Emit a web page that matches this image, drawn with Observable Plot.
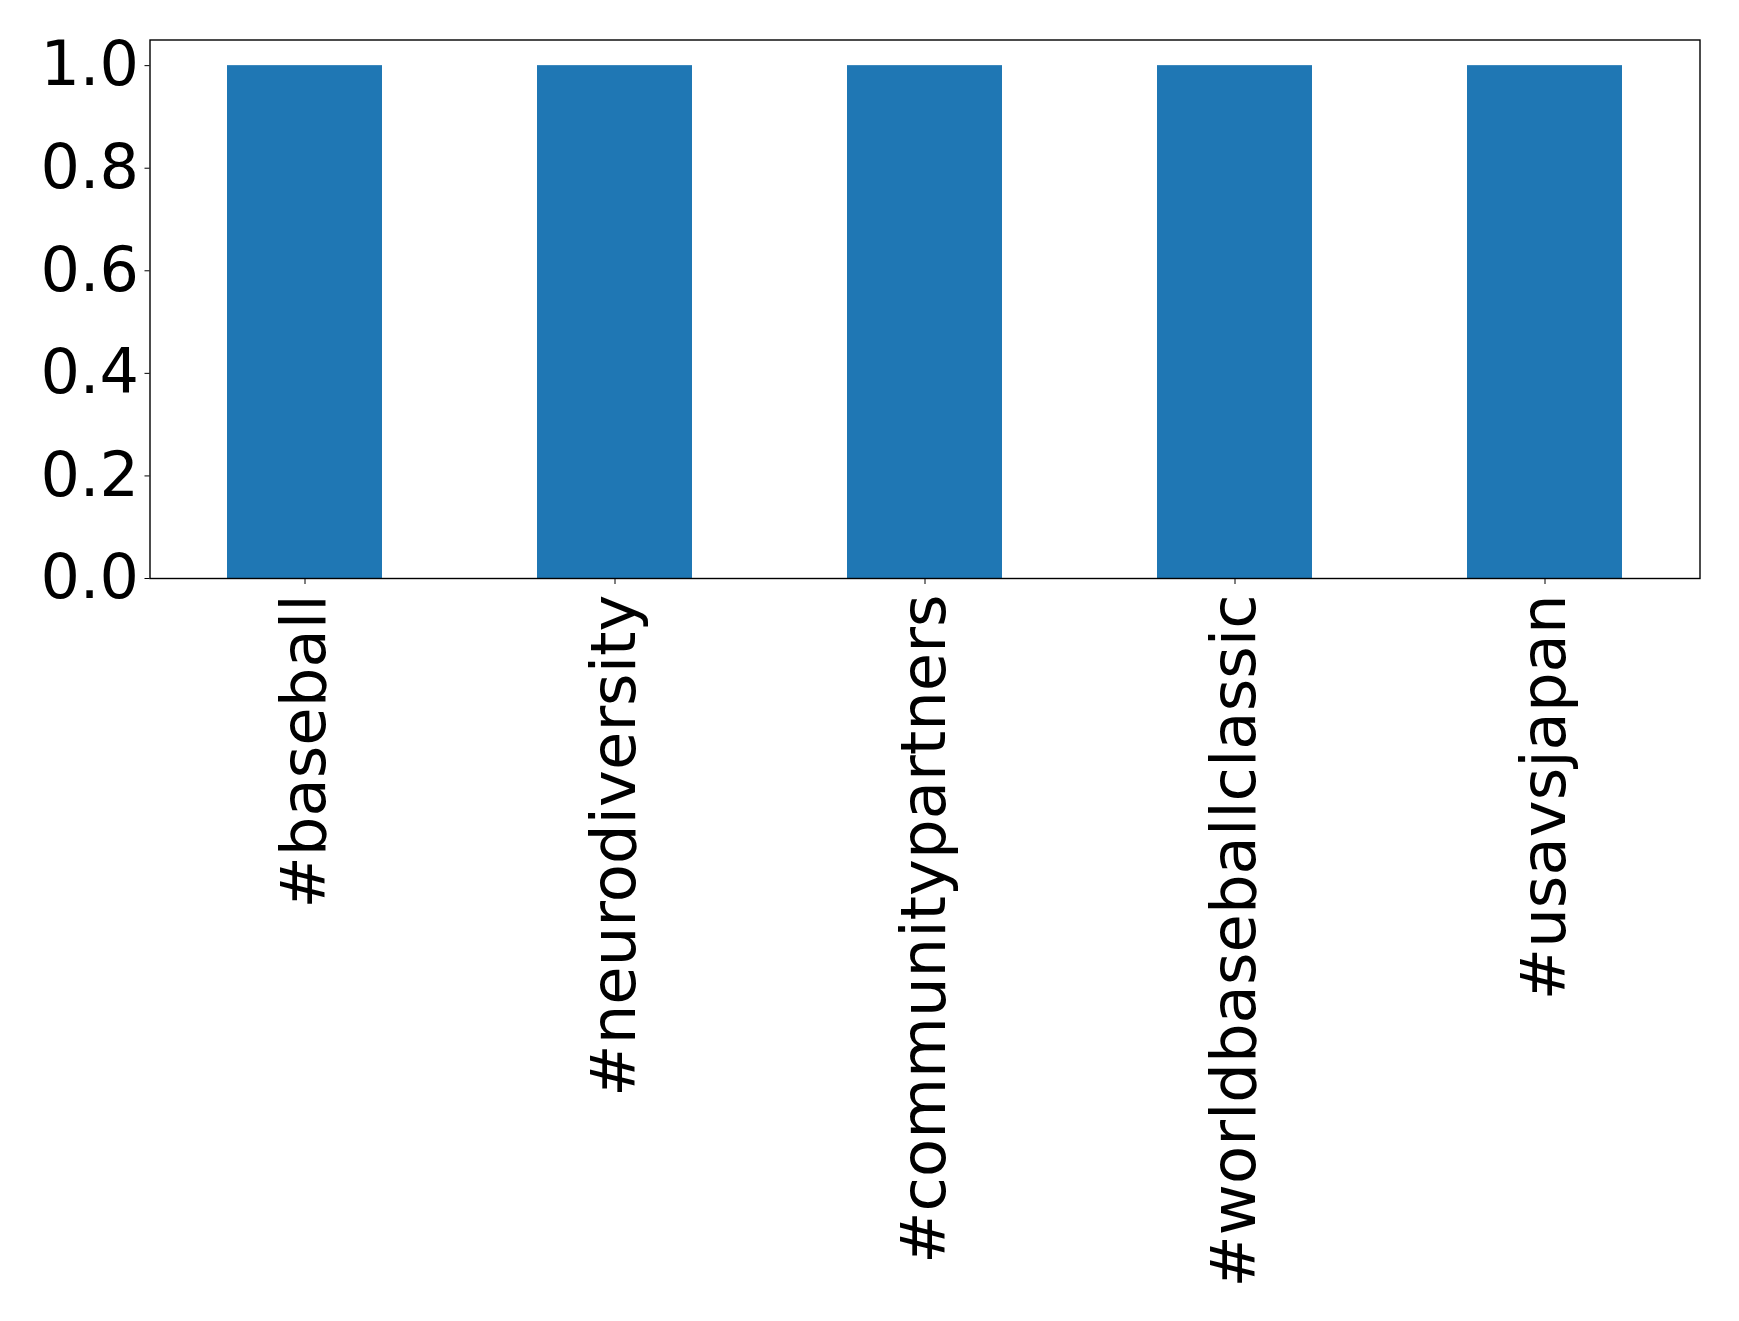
<!DOCTYPE html>
<html>
<head>
<meta charset="utf-8">
<script src="https://cdn.jsdelivr.net/npm/d3@7"></script>
<script src="https://cdn.jsdelivr.net/npm/@observablehq/plot@0.6"></script>
<style>
  html, body { margin: 0; padding: 0; background: white; }
</style>
</head>
<body>
<div id="chart"></div>
<script>
const categories = ["#baseball", "#neurodiversity", "#communitypartners", "#worldbaseballclassic", "#usavsjapan"];
const counts = [1, 1, 1, 1, 1];
const yTicks = [0, 0.2, 0.4, 0.6, 0.8, 1.0];

const data = categories.map((c, i) => ({tag: c, count: counts[i]}));

const chart = Plot.plot({
  width: 1739,
  height: 1321,
  marginLeft: 149.5,
  marginRight: 39.5,
  marginTop: 39.5,
  marginBottom: 743,
  style: {fontFamily: "'DejaVu Sans'", fontSize: "62px", color: "black", background: "white"},
  x: {domain: categories, paddingInner: 0.5, paddingOuter: 0.25, label: null},
  y: {domain: [0, 1.05], label: null},
  marks: [
    Plot.barY(data, {x: "tag", y: "count", fill: "#1f77b4"}),
    Plot.frame({stroke: "black", strokeWidth: 1.4}),
    Plot.axisY({ticks: yTicks, tickFormat: d3.format(".1f"), tickSize: 5, tickPadding: 6, fontSize: 62, label: null}),
    Plot.axisX({tickRotate: -90, tickSize: 6, tickPadding: 10, fontSize: 62.5, label: null})
  ]
});
document.getElementById("chart").appendChild(chart);
</script>
</body>
</html>
